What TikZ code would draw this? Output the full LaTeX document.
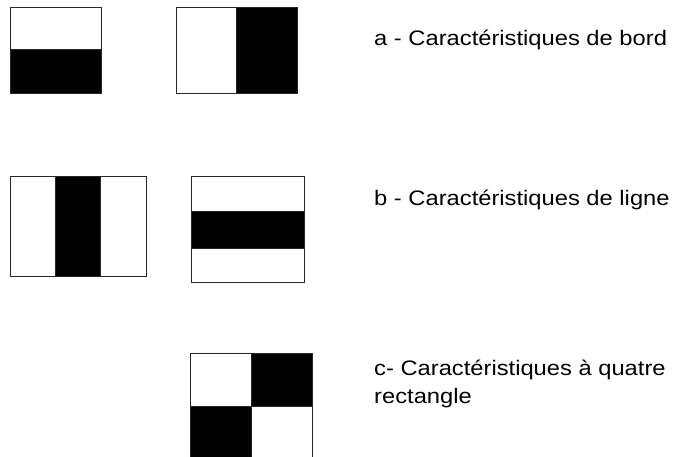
\documentclass[tikz,border=0pt]{standalone}
\usepackage{fontspec}
\setmainfont{Liberation Sans}[FakeStretch=1.13]
\usetikzlibrary{positioning}
\tikzset{
  cell/.style={draw=black!85, line width=0.9pt},
  featlabel/.style={anchor=base west, inner sep=0pt,
    font=\fontsize{21}{28}\selectfont}
}
\begin{document}
\begin{tikzpicture}[x=1pt, y=-1pt]
				\useasboundingbox (0,0) rectangle (673,456);
				% a - bord
				\fill [black] (10,49) rectangle (101,93);
				\draw [cell] (10,7) rectangle (101,93);
				\draw [cell] (10,49) -- (101,49);
				\fill [black] (236,7) rectangle (297,93);
				\draw [cell] (176,7) rectangle (297,93);
				\draw [cell] (236,7) -- (236,93);
				\node[featlabel] (lbla) at (374,45) {a - Caractéristiques de bord};
				% b - ligne
				\fill [black] (55,176) rectangle (100,276);
				\draw [cell] (10,176) rectangle (146,276);
				\draw [cell] (55,176) -- (55,276);
				\draw [cell] (100,176) -- (100,276);
				\fill [black] (191,211) rectangle (304,248);
				\draw [cell] (191,176) rectangle (304,282);
				\draw [cell] (191,211) -- (304,211);
				\draw [cell] (191,248) -- (304,248);
				\node[featlabel] (lblb) at (374,205) {b - Caractéristiques de ligne};
				% c - quatre rectangle
				\fill [black] (251,353) rectangle (312,406);
				\fill [black] (190,406) rectangle (251,462);
				\draw [cell] (190,462) -- (190,353) -- (312,353) -- (312,462);
				\draw [cell] (251,353) -- (251,462);
				\draw [cell] (190,406) -- (312,406);
				\node[featlabel] (lblc) at (374,375) {c- Caractéristiques à quatre};
				\node[featlabel] (lblcc) at (374,403) {rectangle};
			\end{tikzpicture}
\end{document}
